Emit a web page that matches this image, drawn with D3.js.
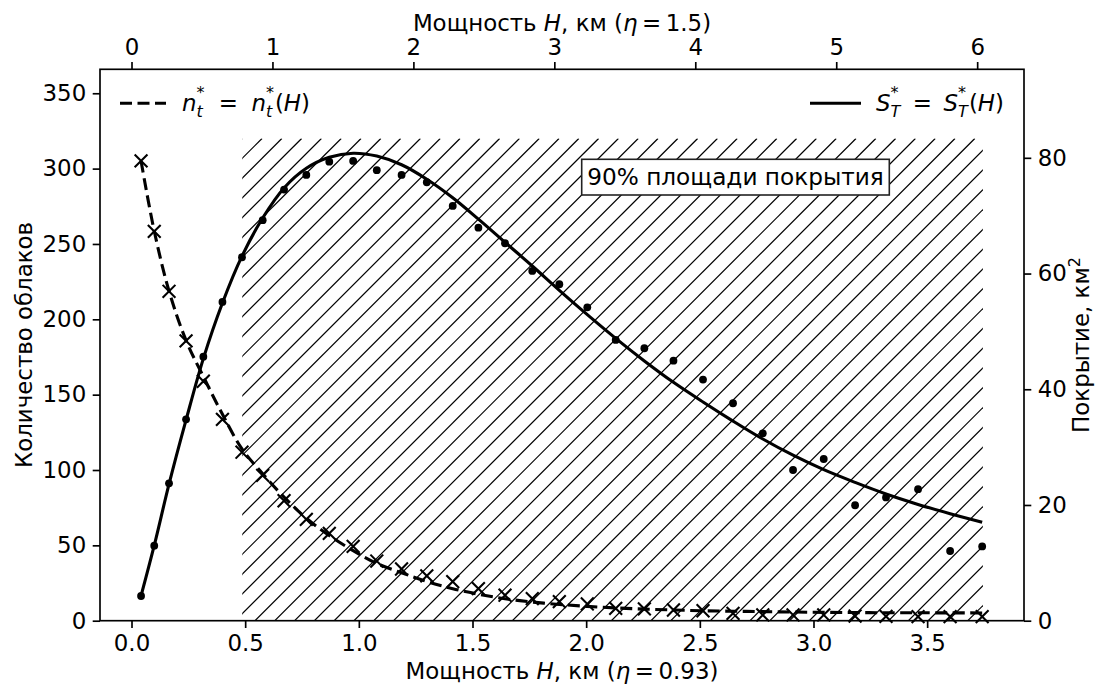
<!DOCTYPE html>
<html><head><meta charset="utf-8">
<script src="https://cdn.jsdelivr.net/npm/d3@7"></script>
<style>
html,body{margin:0;padding:0;background:#fff;}
text{font-family:"DejaVu Sans",sans-serif;fill:#000;}
</style></head>
<body><svg id="c" width="1095" height="687"></svg>
<script>
// ---- data ----
const heights = [0.042,0.100,0.165,0.240,0.316,0.400,0.486,0.577,0.671,0.769,0.870,0.975,1.079,1.188,1.299,1.413,1.526,1.643,1.763,1.882,2.005,2.130,2.256,2.384,2.514,2.646,2.777,2.910,3.045,3.183,3.319,3.460,3.601,3.742];
const cloudCount = [305.1,258.4,218.6,185.7,158.9,133.6,111.8,96.4,79.6,67.2,57.9,49.3,39.6,34.3,29.8,25.9,21.3,16.9,14.7,12.6,11.1,8.2,7.8,7.1,6.6,4.9,3.8,3.8,3.8,3.1,2.9,2.7,2.7,2.7];
const cloudCountFit = [305,258.6,218.8,186,162,137,114,97.5,82,68,56.5,46.5,38,31.8,26,21.2,17.6,14.6,12.4,10.8,9.5,8.5,7.7,7.1,6.6,6.3,6.0,5.75,5.55,5.4,5.3,5.25,5.2,5.15];
const coverage = [4.27,12.96,23.75,34.81,45.64,55.09,62.82,69.23,74.52,77.04,79.33,79.46,77.87,77.04,75.78,71.69,67.93,65.24,60.45,58.15,54.17,48.52,47.09,44.94,41.68,37.58,32.39,26.05,27.95,19.95,21.30,22.73,12.05,12.83];
const coverageFit = [4.3,13.0,23.6,34.7,45.3,54.9,63.0,69.6,74.8,78.2,80.1,80.8,80.3,78.8,76.3,73.1,69.4,65.4,61.3,57.1,52.9,48.8,44.9,41.2,37.8,34.5,31.4,28.6,26.1,23.9,21.9,20.1,18.5,17.0];
const xTicksBottom = [0,0.5,1.0,1.5,2.0,2.5,3.0,3.5];
const xTicksTop = [0,1,2,3,4,5,6];
const yTicksLeft = [0,50,100,150,200,250,300,350];
const yTicksRight = [0,20,40,60,80];
const hatchSpan = [0.487, 3.745];
const hatchTop = 320;
const etaBottom = 0.93, etaTop = 1.5;
const annotation = "90% площади покрытия";

// ---- layout ----
const L=100, R=1024, T=69.3, B=620.7;
const FS = 22.9;
const svg = d3.select("#c");
const x = d3.scaleLinear().domain([-0.1386, 3.926]).range([L,R]);
const xTop = d3.scaleLinear().domain(x.domain().map(d=>d*etaTop/etaBottom)).range([L,R]);
const yL = d3.scaleLinear().domain([0,365.9]).range([B,T]);
const yR = d3.scaleLinear().domain([0,95.3]).range([B,T]);

// hatch
const defs = svg.append("defs");
defs.append("clipPath").attr("id","hclip").append("rect")
  .attr("x", x(hatchSpan[0])).attr("y", yL(hatchTop))
  .attr("width", x(hatchSpan[1])-x(hatchSpan[0])).attr("height", yL(0)-yL(hatchTop));
const hg = svg.append("g").attr("clip-path","url(#hclip)");
const sp = 19.8;
const hx0 = x(hatchSpan[0]), hx1 = x(hatchSpan[1]);
const hy0 = yL(hatchTop), hy1 = yL(0);
const hh = hy1-hy0;
for (let cx = hx0 - hh - sp; cx < hx1 + sp; cx += sp) {
  hg.append("line").attr("x1", cx).attr("y1", hy1).attr("x2", cx+hh).attr("y2", hy0)
    .attr("stroke","#000").attr("stroke-width",1.2);
}

// curves
const lineL = d3.line().x((d,i)=>x(heights[i])).y(d=>yL(d)).curve(d3.curveCatmullRom.alpha(0.5));
const lineR = d3.line().x((d,i)=>x(heights[i])).y(d=>yR(d)).curve(d3.curveCatmullRom.alpha(0.5));
svg.append("path").attr("d", lineR(coverageFit)).attr("fill","none").attr("stroke","#000").attr("stroke-width",3.1);
svg.append("path").attr("d", lineL(cloudCountFit)).attr("fill","none").attr("stroke","#000").attr("stroke-width",3.1)
  .attr("stroke-dasharray","12,5.5");

// markers
svg.append("g").selectAll("circle").data(coverage).join("circle")
  .attr("cx",(d,i)=>x(heights[i])).attr("cy",d=>yR(d)).attr("r",3.9).attr("fill","#000");
const cs = 6.4;
svg.append("g").selectAll("path").data(cloudCount).join("path")
  .attr("d",(d,i)=>{const cx=x(heights[i]), cy=yL(d);
    return `M${cx-cs},${cy-cs}L${cx+cs},${cy+cs}M${cx-cs},${cy+cs}L${cx+cs},${cy-cs}`;})
  .attr("stroke","#000").attr("stroke-width",2.1).attr("fill","none");

// spines
svg.append("rect").attr("x",L).attr("y",T).attr("width",R-L).attr("height",B-T)
  .attr("fill","none").attr("stroke","#000").attr("stroke-width",1.67);

// axes
function styleAxis(g){ g.select(".domain").remove();
  g.selectAll(".tick line").attr("stroke","#000").attr("stroke-width",1.67);
  g.selectAll(".tick text").attr("font-size",FS).attr("font-family","DejaVu Sans").attr("fill","#000"); }
svg.append("g").attr("transform",`translate(0,${B})`)
  .call(d3.axisBottom(x).tickValues(xTicksBottom).tickFormat(d3.format(".1f")).tickSize(7.3).tickPadding(7)).call(styleAxis);
svg.append("g").attr("transform",`translate(0,${T})`)
  .call(d3.axisTop(xTop).tickValues(xTicksTop).tickFormat(d3.format("d")).tickSize(7.3).tickPadding(7)).call(styleAxis);
svg.append("g").attr("transform",`translate(${L},0)`)
  .call(d3.axisLeft(yL).tickValues(yTicksLeft).tickFormat(d3.format("d")).tickSize(7.3).tickPadding(6.5)).call(styleAxis);
svg.append("g").attr("transform",`translate(${R},0)`)
  .call(d3.axisRight(yR).tickValues(yTicksRight).tickFormat(d3.format("d")).tickSize(7.3).tickPadding(6.5)).call(styleAxis);

// axis labels
function labelH(yb, eta){
  const t = svg.append("text").attr("x",(L+R)/2).attr("y",yb).attr("text-anchor","middle").attr("font-size",FS)
    .attr("xml:space","preserve");
  t.append("tspan").text("Мощность ");
  t.append("tspan").attr("font-style","italic").text("H");
  t.append("tspan").text(", км (");
  t.append("tspan").attr("font-style","italic").text("η");
  t.append("tspan").text("\u2009=\u2009"+eta+")");
}
labelH(679, "0.93");
labelH(30.5, "1.5");
svg.append("text").attr("transform",`translate(32,${(T+B)/2}) rotate(-90)`).attr("text-anchor","middle")
  .attr("font-size",FS).text("Количество облаков");
const rl = svg.append("text").attr("transform",`translate(1089,${(T+B)/2}) rotate(-90)`).attr("text-anchor","middle")
  .attr("font-size",FS);
rl.append("tspan").text("Покрытие, км");
rl.append("tspan").attr("dy",-9).attr("font-size",FS*0.7).text("2");

// math legend text in one text element: base_sub^* = base_sub^*(H), fitted to a target width
function measure(t, it, size){
  const el = svg.append("text").attr("font-size", size||FS).attr("font-style", it?"italic":"normal").text(t);
  const w = el.node().getComputedTextLength(); el.remove(); return w;
}
function mathLegend(x0, yb, base, sub, targetW){
  const wb = measure(base,true), ws = Math.max(measure(sub,true,FS*0.7), measure("*",false,FS*0.7)) + 1;
  const we = measure("="), wl = measure("("), wh = measure("H",true), wr = measure(")");
  const fixed = 2*wb + 2*ws + we + wl + wh + wr;
  const gap = Math.max(3, (targetW - fixed)/2);
  const t = svg.append("text").attr("font-size",FS);
  const add = (s, xx, yy, it, size) => t.append("tspan").attr("x",xx).attr("y",yy)
      .attr("font-style", it?"italic":"normal").attr("font-size", size||FS).text(s);
  let cx = x0;
  add(base, cx, yb, true); cx += wb;
  add("*", cx, yb-13, false, FS*0.7); add(sub, cx, yb+6, true, FS*0.7); cx += ws + gap;
  add("=", cx, yb, false); cx += we + gap;
  add(base, cx, yb, true); cx += wb;
  add("*", cx, yb-13, false, FS*0.7); add(sub, cx, yb+6, true, FS*0.7); cx += ws;
  add("(", cx, yb, false); cx += wl;
  add("H", cx, yb, true); cx += wh;
  add(")", cx, yb, false);
}
// legends
svg.append("line").attr("x1",120).attr("x2",166).attr("y1",103.3).attr("y2",103.3)
  .attr("stroke","#000").attr("stroke-width",3.1).attr("stroke-dasharray","12,5.5");
mathLegend(182, 111, "n", "t", 128);
svg.append("line").attr("x1",810).attr("x2",861).attr("y1",103.3).attr("y2",103.3)
  .attr("stroke","#000").attr("stroke-width",3.1);
mathLegend(876, 111, "S", "T", 128);

// annotation box
const ab = svg.append("g");
ab.append("rect").attr("x",581.7).attr("y",159.3).attr("width",889.3-581.7).attr("height",195-159.3)
  .attr("fill","#fff").attr("stroke","#222").attr("stroke-width",1.6);
ab.append("text").attr("x",(581.7+889.3)/2).attr("y",185.3).attr("text-anchor","middle").attr("font-size",23.2).text(annotation);
</script></body></html>
